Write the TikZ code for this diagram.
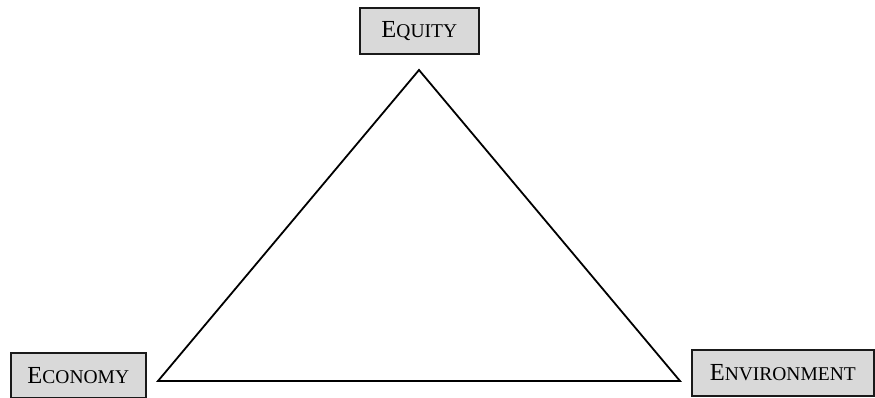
\documentclass[tikz,border=0pt]{standalone}
\usepackage{fontspec}
\setmainfont{Liberation Serif}
\definecolor{boxfill}{HTML}{D9D9D9}
\definecolor{boxline}{HTML}{1A1A1A}
\newcommand{\sctext}[2]{{\fontsize{24.5}{28}\selectfont #1}{\fontsize{19.5}{22}\selectfont #2}}
\begin{document}
\begin{tikzpicture}[x=1pt,y=-1pt,
  label box/.style={draw=boxline, fill=boxfill, line width=1.6pt, inner sep=0pt, anchor=north west},
  tri/.style={line width=1.8pt, line join=miter}]
\useasboundingbox (0,0) rectangle (875,398);
\node[label box, minimum width=119pt, minimum height=46pt] (equity) at (359,7) {\sctext{E}{QUITY}};
\node[label box, minimum width=135pt, minimum height=45pt] (economy) at (10,352) {\sctext{E}{CONOMY}};
\node[label box, minimum width=182pt, minimum height=46pt] (environment) at (691,349) {\sctext{E}{NVIRONMENT}};
\coordinate (top) at (419,70);
\coordinate (left) at (158,381);
\coordinate (right) at (680,381);
\draw[tri] (top) -- (left) -- (right) -- cycle;
\end{tikzpicture}
\end{document}
